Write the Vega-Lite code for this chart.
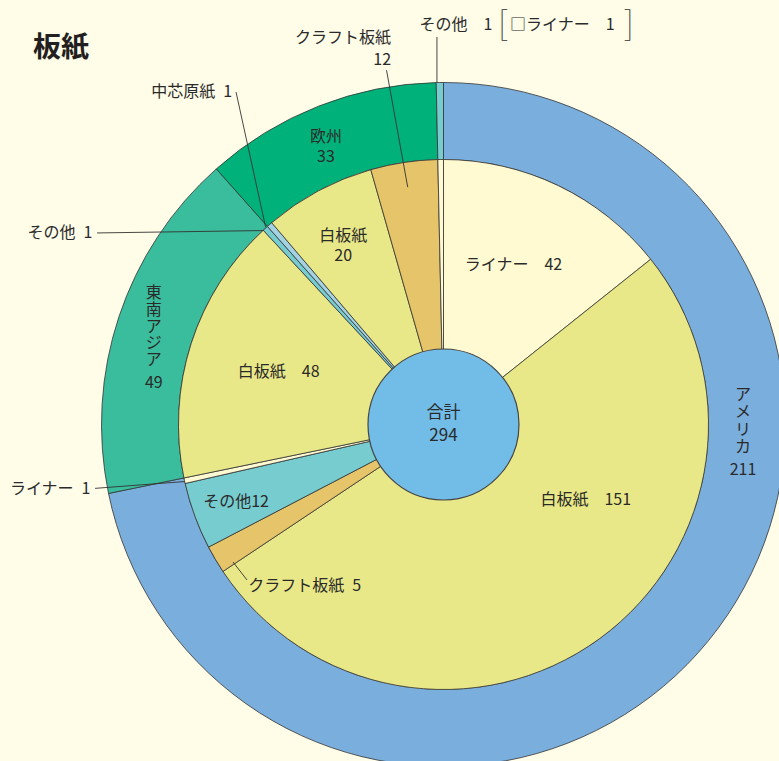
{
  "$schema": "https://vega.github.io/schema/vega-lite/v6.json",
  "width": 671,
  "height": 673,
  "autosize": {"type": "none"},
  "padding": {"left": 108, "top": 88, "right": 0, "bottom": 0},
  "background": "#FFFCE8",
  "title": {"text": "板紙", "anchor": "start", "frame": "group", "font": "Noto Sans CJK JP", "fontSize": 28, "fontWeight": "bold", "color": "#231f20", "dx": -75, "offset": -54},
  "config": {
    "view": {"stroke": null},
    "text": {"font": "Noto Sans CJK JP", "fontSize": 16, "color": "#2a2a2a"}
  },
  "datasets": {
    "paper": [
      {"region": "アメリカ", "product": "ライナー", "value": 42},
      {"region": "アメリカ", "product": "白板紙", "value": 151},
      {"region": "アメリカ", "product": "クラフト板紙", "value": 5},
      {"region": "アメリカ", "product": "その他", "value": 12},
      {"region": "アメリカ", "product": "ライナー", "value": 1},
      {"region": "東南アジア", "product": "白板紙", "value": 48},
      {"region": "東南アジア", "product": "その他", "value": 1},
      {"region": "欧州", "product": "中芯原紙", "value": 1},
      {"region": "欧州", "product": "白板紙", "value": 20},
      {"region": "欧州", "product": "クラフト板紙", "value": 12},
      {"region": "その他", "product": "ライナー", "value": 1}
    ]
  },
  "data": {"name": "paper"},
  "transform": [
    {"window": [{"op": "row_number", "as": "idx"}]},
    {"joinaggregate": [{"op": "sum", "field": "value", "as": "total"}]},
    {"window": [{"op": "sum", "field": "value", "as": "cum"}], "sort": [{"field": "idx"}], "frame": [null, 0]},
    {"calculate": "datum.cum - datum.value / 2", "as": "mid"},
    {"calculate": "2 * PI * datum.mid / datum.total", "as": "ang"}
  ],
  "layer": [
    {
      "transform": [{"aggregate": [{"op": "sum", "field": "value", "as": "rv"}, {"op": "min", "field": "idx", "as": "ord"}], "groupby": ["region"]}],
      "mark": {"type": "arc", "outerRadius": 342, "innerRadius": 265, "stroke": "#333333", "strokeWidth": 0.8},
      "encoding": {
        "theta": {"field": "rv", "type": "quantitative", "stack": true},
        "order": {"field": "ord", "type": "quantitative"},
        "color": {"field": "region", "type": "nominal", "legend": null,
          "scale": {"domain": ["アメリカ", "東南アジア", "欧州", "その他", "ライナー", "白板紙", "クラフト板紙", "中芯原紙"],
                    "range": ["#7AAEDD", "#3ABD9C", "#00B27A", "#77CCD0", "#FFFAD2", "#E9E888", "#E5C46A", "#A3D2E3"]}}
      }
    },
    {
      "mark": {"type": "arc", "outerRadius": 265, "innerRadius": 0, "stroke": "#333333", "strokeWidth": 0.8},
      "encoding": {
        "theta": {"field": "value", "type": "quantitative", "stack": true},
        "order": {"field": "idx", "type": "quantitative"},
        "color": {"field": "product", "type": "nominal", "legend": null,
          "scale": {"domain": ["アメリカ", "東南アジア", "欧州", "その他", "ライナー", "白板紙", "クラフト板紙", "中芯原紙"],
                    "range": ["#7AAEDD", "#3ABD9C", "#00B27A", "#77CCD0", "#FFFAD2", "#E9E888", "#E5C46A", "#A3D2E3"]}}
      }
    },
    {
      "transform": [{"aggregate": [{"op": "sum", "field": "value", "as": "tot"}]}],
      "mark": {"type": "arc", "outerRadius": 75.5, "innerRadius": 0, "fill": "#72BCE8", "stroke": "#444444", "strokeWidth": 1.2},
      "encoding": {"theta": {"field": "tot", "type": "quantitative", "stack": true}}
    },
    {
      "transform": [{"aggregate": [{"op": "sum", "field": "value", "as": "tot"}]}, {"calculate": "'合計\\n' + datum.tot", "as": "lab"}],
      "mark": {"type": "text", "fontSize": 17, "lineBreak": "\n", "lineHeight": 23, "dy": -11.5, "align": "center", "baseline": "middle"},
      "encoding": {"text": {"field": "lab", "type": "nominal"}}
    },
    {
      "transform": [{"filter": "datum.idx === 1"}, {"calculate": "datum.product + '　' + datum.value", "as": "lab"}],
      "mark": {"type": "text", "radius": 175, "dx": -6, "dy": -2, "align": "center", "baseline": "middle"},
      "encoding": {"theta": {"field": "mid", "type": "quantitative", "stack": null}, "text": {"field": "lab", "type": "nominal"}}
    },
    {
      "transform": [{"filter": "datum.idx === 2"}, {"calculate": "datum.product + '　' + datum.value", "as": "lab"}],
      "mark": {"type": "text", "radius": 170, "dx": 42, "dy": -62, "align": "center", "baseline": "middle"},
      "encoding": {"theta": {"field": "mid", "type": "quantitative", "stack": null}, "text": {"field": "lab", "type": "nominal"}}
    },
    {
      "transform": [{"filter": "datum.idx === 3"}, {"calculate": "datum.product + '\u2002' + datum.value", "as": "lab"}],
      "mark": {"type": "text", "radius": 250, "dx": 20, "dy": 34, "align": "left", "baseline": "middle"},
      "encoding": {"theta": {"field": "mid", "type": "quantitative", "stack": null}, "text": {"field": "lab", "type": "nominal"}}
    },
    {
      "transform": [{"filter": "datum.idx === 4"}, {"calculate": "datum.product + datum.value", "as": "lab"}],
      "mark": {"type": "text", "radius": 220, "dx": -1, "dy": 1.5, "align": "center", "baseline": "middle"},
      "encoding": {"theta": {"field": "mid", "type": "quantitative", "stack": null}, "text": {"field": "lab", "type": "nominal"}}
    },
    {
      "transform": [{"filter": "datum.idx === 5"}, {"calculate": "datum.product + '\u2002' + datum.value", "as": "lab"}],
      "mark": {"type": "text", "radius": 262, "dx": -97, "dy": 9, "align": "right", "baseline": "middle"},
      "encoding": {"theta": {"field": "mid", "type": "quantitative", "stack": null}, "text": {"field": "lab", "type": "nominal"}}
    },
    {
      "transform": [{"filter": "datum.idx === 6"}, {"calculate": "datum.product + '　' + datum.value", "as": "lab"}],
      "mark": {"type": "text", "radius": 172, "dx": -1, "dy": 0, "align": "center", "baseline": "middle"},
      "encoding": {"theta": {"field": "mid", "type": "quantitative", "stack": null}, "text": {"field": "lab", "type": "nominal"}}
    },
    {
      "transform": [{"filter": "datum.idx === 7"}, {"calculate": "datum.product + '\u2002' + datum.value", "as": "lab"}],
      "mark": {"type": "text", "radius": 262, "dx": -175, "dy": 2.5, "align": "right", "baseline": "middle"},
      "encoding": {"theta": {"field": "mid", "type": "quantitative", "stack": null}, "text": {"field": "lab", "type": "nominal"}}
    },
    {
      "transform": [{"filter": "datum.idx === 8"}, {"calculate": "datum.product + '\u2002' + datum.value", "as": "lab"}],
      "mark": {"type": "text", "radius": 262, "dx": -39.5, "dy": -135, "align": "right", "baseline": "middle"},
      "encoding": {"theta": {"field": "mid", "type": "quantitative", "stack": null}, "text": {"field": "lab", "type": "nominal"}}
    },
    {
      "transform": [{"filter": "datum.idx === 9"}, {"calculate": "datum.product + '\\n' + datum.value", "as": "lab"}],
      "mark": {"type": "text", "radius": 202, "dx": -5, "dy": -10, "align": "center", "baseline": "middle", "lineBreak": "\n", "lineHeight": 20},
      "encoding": {"theta": {"field": "mid", "type": "quantitative", "stack": null}, "text": {"field": "lab", "type": "nominal"}}
    },
    {
      "transform": [{"filter": "datum.idx === 10"}, {"calculate": "datum.product + '\\n' + datum.value", "as": "lab"}],
      "mark": {"type": "text", "radius": 240, "dx": -16.7, "dy": -149, "align": "right", "baseline": "middle", "lineBreak": "\n", "lineHeight": 22},
      "encoding": {"theta": {"field": "mid", "type": "quantitative", "stack": null}, "text": {"field": "lab", "type": "nominal"}}
    },
    {
      "transform": [{"filter": "datum.idx === 11"}, {"calculate": "datum.region + '　' + datum.value", "as": "lab"}],
      "mark": {"type": "text", "radius": 342, "dx": 16, "dy": -57.5, "align": "center", "baseline": "middle"},
      "encoding": {"theta": {"field": "mid", "type": "quantitative", "stack": null}, "text": {"field": "lab", "type": "nominal"}}
    },
    {
      "transform": [{"filter": "datum.idx === 11"}, {"calculate": "'□' + datum.product + '　' + datum.value", "as": "lab"}],
      "mark": {"type": "text", "radius": 342, "dx": 122.5, "dy": -57.5, "align": "center", "baseline": "middle"},
      "encoding": {"theta": {"field": "mid", "type": "quantitative", "stack": null}, "text": {"field": "lab", "type": "nominal"}}
    },
    {
      "transform": [{"filter": "datum.idx === 11"}],
      "mark": {"type": "text", "text": "[", "font": "Noto Sans CJK JP", "fontWeight": 100, "fontSize": 33, "radius": 342, "dx": 63, "dy": -58, "align": "center", "baseline": "middle", "color": "#333333"},
      "encoding": {"theta": {"field": "mid", "type": "quantitative", "stack": null}}
    },
    {
      "transform": [{"filter": "datum.idx === 11"}],
      "mark": {"type": "text", "text": "]", "font": "Noto Sans CJK JP", "fontWeight": 100, "fontSize": 33, "radius": 342, "dx": 189, "dy": -58, "align": "center", "baseline": "middle", "color": "#333333"},
      "encoding": {"theta": {"field": "mid", "type": "quantitative", "stack": null}}
    },
    {
      "transform": [
        {"aggregate": [{"op": "sum", "field": "value", "as": "rv"}, {"op": "max", "field": "cum", "as": "rend"}], "groupby": ["region"]},
        {"calculate": "datum.rend - datum.rv / 2", "as": "rmid"},
        {"filter": "datum.region === 'アメリカ'"},
        {"calculate": "join(split(datum.region, ''), '\\n')", "as": "lab"}
      ],
      "mark": {"type": "text", "radius": 300, "dx": 67, "dy": -219, "align": "center", "baseline": "middle", "lineBreak": "\n", "lineHeight": 17.3},
      "encoding": {"theta": {"field": "rmid", "type": "quantitative", "stack": null}, "text": {"field": "lab", "type": "nominal"}}
    },
    {
      "transform": [
        {"aggregate": [{"op": "sum", "field": "value", "as": "rv"}, {"op": "max", "field": "cum", "as": "rend"}], "groupby": ["region"]},
        {"calculate": "datum.rend - datum.rv / 2", "as": "rmid"},
        {"filter": "datum.region === '東南アジア'"},
        {"calculate": "join(split(datum.region, ''), '\\n')", "as": "lab"}
      ],
      "mark": {"type": "text", "radius": 300, "dx": -5, "dy": -37, "align": "center", "baseline": "middle", "lineBreak": "\n", "lineHeight": 16.8},
      "encoding": {"theta": {"field": "rmid", "type": "quantitative", "stack": null}, "text": {"field": "lab", "type": "nominal"}}
    },
    {
      "transform": [
        {"aggregate": [{"op": "sum", "field": "value", "as": "rv"}, {"op": "max", "field": "cum", "as": "rend"}], "groupby": ["region"]},
        {"calculate": "datum.rend - datum.rv / 2", "as": "rmid"},
        {"filter": "datum.region === '欧州'"},
        {"calculate": "datum.region + '\\n' + datum.rv", "as": "lab"}
      ],
      "mark": {"type": "text", "radius": 300, "dx": -8, "dy": -8.5, "align": "center", "baseline": "middle", "lineBreak": "\n", "lineHeight": 20},
      "encoding": {"theta": {"field": "rmid", "type": "quantitative", "stack": null}, "text": {"field": "lab", "type": "nominal"}}
    },
    {
      "transform": [
        {"aggregate": [{"op": "sum", "field": "value", "as": "rv"}, {"op": "max", "field": "cum", "as": "rend"}], "groupby": ["region"]},
        {"calculate": "datum.rend - datum.rv / 2", "as": "rmid"},
        {"filter": "datum.region === 'アメリカ'"}
      ],
      "mark": {"type": "text", "radius": 300, "dx": 67, "dy": -144, "align": "center", "baseline": "middle"},
      "encoding": {"theta": {"field": "rmid", "type": "quantitative", "stack": null}, "text": {"field": "rv", "type": "nominal"}}
    },
    {
      "transform": [
        {"aggregate": [{"op": "sum", "field": "value", "as": "rv"}, {"op": "max", "field": "cum", "as": "rend"}], "groupby": ["region"]},
        {"calculate": "datum.rend - datum.rv / 2", "as": "rmid"},
        {"filter": "datum.region === '東南アジア'"}
      ],
      "mark": {"type": "text", "radius": 300, "dx": -5, "dy": 53, "align": "center", "baseline": "middle"},
      "encoding": {"theta": {"field": "rmid", "type": "quantitative", "stack": null}, "text": {"field": "rv", "type": "nominal"}}
    },
    {
      "transform": [
        {"filter": "datum.idx === 11"},
        {"calculate": "342 * sin(datum.ang) - 2.9", "as": "x0"},
        {"calculate": "342 * cos(datum.ang)", "as": "y0"},
        {"calculate": "datum.x0", "as": "x1"},
        {"calculate": "datum.y0 + 45.5", "as": "y1"}
      ],
      "mark": {"type": "rule", "stroke": "#333333", "strokeWidth": 0.9},
      "encoding": {
        "x": {"field": "x0", "type": "quantitative", "scale": {"domain": [-335.5, 335.5]}, "axis": null},
        "y": {"field": "y0", "type": "quantitative", "scale": {"domain": [-336.5, 336.5]}, "axis": null},
        "x2": {"field": "x1"}, "y2": {"field": "y1"}
      }
    },
    {
      "transform": [
        {"filter": "datum.idx === 10"},
        {"calculate": "240 * sin(datum.ang)", "as": "x0"},
        {"calculate": "240 * cos(datum.ang)", "as": "y0"},
        {"calculate": "datum.x0 - 21.2", "as": "x1"},
        {"calculate": "datum.y0 + 117", "as": "y1"}
      ],
      "mark": {"type": "rule", "stroke": "#333333", "strokeWidth": 0.9},
      "encoding": {
        "x": {"field": "x0", "type": "quantitative", "scale": {"domain": [-335.5, 335.5]}, "axis": null},
        "y": {"field": "y0", "type": "quantitative", "scale": {"domain": [-336.5, 336.5]}, "axis": null},
        "x2": {"field": "x1"}, "y2": {"field": "y1"}
      }
    },
    {
      "transform": [
        {"filter": "datum.idx === 8"},
        {"calculate": "262 * sin(datum.ang) - 6", "as": "x0"},
        {"calculate": "262 * cos(datum.ang)", "as": "y0"},
        {"calculate": "datum.x0 - 29.5", "as": "x1"},
        {"calculate": "datum.y0 + 134.8", "as": "y1"}
      ],
      "mark": {"type": "rule", "stroke": "#333333", "strokeWidth": 0.9},
      "encoding": {
        "x": {"field": "x0", "type": "quantitative", "scale": {"domain": [-335.5, 335.5]}, "axis": null},
        "y": {"field": "y0", "type": "quantitative", "scale": {"domain": [-336.5, 336.5]}, "axis": null},
        "x2": {"field": "x1"}, "y2": {"field": "y1"}
      }
    },
    {
      "transform": [
        {"filter": "datum.idx === 7"},
        {"calculate": "262 * sin(datum.ang) - 4", "as": "x0"},
        {"calculate": "262 * cos(datum.ang)", "as": "y0"},
        {"calculate": "datum.x0 - 166.3", "as": "x1"},
        {"calculate": "datum.y0 - 2.4", "as": "y1"}
      ],
      "mark": {"type": "rule", "stroke": "#333333", "strokeWidth": 0.9},
      "encoding": {
        "x": {"field": "x0", "type": "quantitative", "scale": {"domain": [-335.5, 335.5]}, "axis": null},
        "y": {"field": "y0", "type": "quantitative", "scale": {"domain": [-336.5, 336.5]}, "axis": null},
        "x2": {"field": "x1"}, "y2": {"field": "y1"}
      }
    },
    {
      "transform": [
        {"filter": "datum.idx === 5"},
        {"calculate": "262 * sin(datum.ang) - 3", "as": "x0"},
        {"calculate": "262 * cos(datum.ang) - 1.5", "as": "y0"},
        {"calculate": "datum.x0 - 89.4", "as": "x1"},
        {"calculate": "datum.y0 - 6.8", "as": "y1"}
      ],
      "mark": {"type": "rule", "stroke": "#333333", "strokeWidth": 0.9},
      "encoding": {
        "x": {"field": "x0", "type": "quantitative", "scale": {"domain": [-335.5, 335.5]}, "axis": null},
        "y": {"field": "y0", "type": "quantitative", "scale": {"domain": [-336.5, 336.5]}, "axis": null},
        "x2": {"field": "x1"}, "y2": {"field": "y1"}
      }
    },
    {
      "transform": [
        {"filter": "datum.idx === 3"},
        {"calculate": "250 * sin(datum.ang) + 4.7", "as": "x0"},
        {"calculate": "250 * cos(datum.ang) - 10.2", "as": "y0"},
        {"calculate": "datum.x0 + 14", "as": "x1"},
        {"calculate": "datum.y0 - 18", "as": "y1"}
      ],
      "mark": {"type": "rule", "stroke": "#333333", "strokeWidth": 0.9},
      "encoding": {
        "x": {"field": "x0", "type": "quantitative", "scale": {"domain": [-335.5, 335.5]}, "axis": null},
        "y": {"field": "y0", "type": "quantitative", "scale": {"domain": [-336.5, 336.5]}, "axis": null},
        "x2": {"field": "x1"}, "y2": {"field": "y1"}
      }
    }
  ]
}
